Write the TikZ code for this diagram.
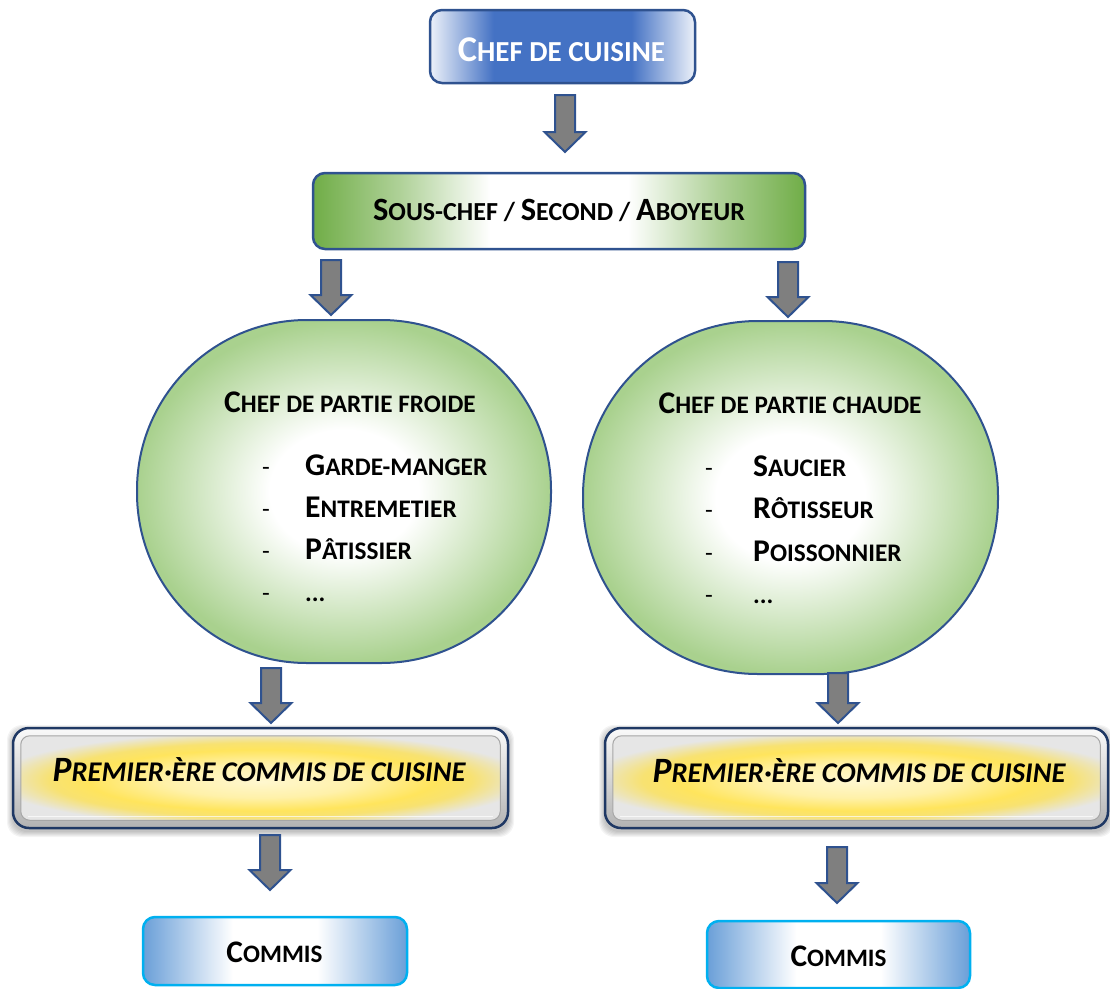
\documentclass[tikz,border=0pt]{standalone}
\usepackage{fontspec}
\setmainfont{Carlito}
\usepackage{graphicx}
\definecolor{chefblue}{HTML}{4472C4}
\definecolor{navy}{HTML}{2F528F}
\definecolor{sgreen}{HTML}{70AD47}
\definecolor{lgreen}{HTML}{A9D18E}
\definecolor{cblue}{HTML}{6A9FD8}
\definecolor{cyanb}{HTML}{00B0F0}
\definecolor{agray}{HTML}{7F7F7F}
\definecolor{dnavy}{HTML}{1F3864}
\definecolor{yel}{HTML}{FFE040}
\definecolor{lgray}{HTML}{E6E6E6}

\pgfdeclarehorizontalshading{bluebar}{100bp}{color(0bp)=(white); color(25bp)=(white!90!chefblue); color(37bp)=(chefblue); color(63bp)=(chefblue); color(75bp)=(white!90!chefblue); color(100bp)=(white)}
\pgfdeclarehorizontalshading{greenbar}{100bp}{color(0bp)=(sgreen); color(25bp)=(sgreen); color(34bp)=(sgreen!55!white); color(43bp)=(white); color(57bp)=(white); color(66bp)=(sgreen!55!white); color(75bp)=(sgreen); color(100bp)=(sgreen)}
\pgfdeclarehorizontalshading{commisbar}{100bp}{color(0bp)=(cblue); color(25bp)=(cblue); color(42bp)=(white); color(58bp)=(white); color(75bp)=(cblue); color(100bp)=(cblue)}
\pgfdeclareradialshading{greenglow}{\pgfpoint{0bp}{0bp}}{color(0bp)=(white); color(9bp)=(white); color(25bp)=(lgreen); color(50bp)=(lgreen)}
\pgfdeclareradialshading{yellowglow}{\pgfpoint{0bp}{-2bp}}{color(0bp)=(yel!25!white); color(10bp)=(yel!45!white); color(18bp)=(yel!85!white); color(22bp)=(yel!70!lgray); color(28bp)=(lgray); color(50bp)=(lgray)}

\newcommand\capl[1]{\scalebox{1.25}{#1}}
\newcommand\sz[1]{\bfseries\fontsize{#1}{#1}\selectfont}
\newcommand\szn[1]{\mdseries\fontsize{#1}{#1}\selectfont}

\tikzset{
  arrowsty/.style={fill=agray, draw=navy, line width=2, line join=miter},
  pics/barrow/.style={code={\draw[arrowsty] (-10,0) -- (10,0) -- (10,#1-20) -- (20.5,#1-20) -- (0,#1) -- (-20.5,#1-20) -- (-10,#1-20) -- cycle;}},
  chefbox/.style={draw=navy, line width=2.5, rounded corners=12, shading=bluebar, shade, inner sep=0},
  sousbox/.style={draw=navy, line width=2.5, rounded corners=12, shading=greenbar, shade, inner sep=0},
  ovalbox/.style={draw=navy, line width=2, shading=greenglow, shade, inner sep=0},
  commisbox/.style={draw=cyanb, line width=2.5, rounded corners=12, shading=commisbar, shade, inner sep=0},
  pframe/.style={draw=dnavy, line width=2.5, rounded corners=16, top color=white!96!gray, bottom color=gray!60, inner sep=0},
  txt/.style={inner sep=0, anchor=base},
  item/.style={inner sep=0, anchor=base west}
}

\newcommand\premierbox[5]{%
  \foreach \i in {1,...,6}{%
    \fill[black, opacity=.045, rounded corners=15] (#2-#4/2-\i, #3-#5/2-\i+3) rectangle (#2+#4/2+\i, #3+#5/2+\i+3);
  }
  \node[pframe, minimum width=#4, minimum height=#5] (#1) at (#2,#3) {};
  \shade[shading=yellowglow, rounded corners=9] ([shift={(9,9)}]#1.north west) rectangle ([shift={(-9,-9)}]#1.south east);
  \draw[white, opacity=.7, line width=1.5] ([shift={(16,-13)}]#1.south west) -- ([shift={(-16,-13)}]#1.south east);
  \draw[gray!70, line width=1, rounded corners=9] ([shift={(9,9)}]#1.north west) rectangle ([shift={(-9,-9)}]#1.south east);
}

\begin{document}
\begin{tikzpicture}[x=1pt,y=-1pt]
\useasboundingbox (0,0) rectangle (1110,988);

% Chef de cuisine
\node[chefbox, minimum width=265, minimum height=73] (chef) at (562.5,46.5) {};
\node[txt, text=white, font=\sz{29}] (tchef) at (561.5,61) {\capl{C}HEF DE CUISINE};
\pic at (565,95) {barrow=57};

% Sous-chef
\node[sousbox, minimum width=492, minimum height=76] (sous) at (559,211) {};
\node[txt, font=\sz{26}] (tsous) at (559,220) {\capl{S}OUS-CHEF / \capl{S}ECOND / \capl{A}BOYEUR};
\pic at (331,260) {barrow=55};
\pic at (788,262) {barrow=55};

% Chef de partie froide
\node[ovalbox, rounded corners=170, minimum width=414, minimum height=343] (froide) at (344,491.5) {};
\node[txt, font=\sz{25.2}] (tfroide) at (350,412) {\capl{C}HEF DE PARTIE FROIDE};
\node[item, font=\szn{25.3}] (fd1) at (262,475) {-};
\node[item, font=\szn{25.3}] (fd2) at (262,517) {-};
\node[item, font=\szn{25.3}] (fd3) at (262,559) {-};
\node[item, font=\szn{25.3}] (fd4) at (262,601) {-};
\node[item, font=\sz{25.3}] (fi1) at (305,475) {\capl{G}ARDE-MANGER};
\node[item, font=\sz{25.3}] (fi2) at (305,517) {\capl{E}NTREMETIER};
\node[item, font=\sz{25.3}] (fi3) at (305,559) {\capl{P}ÂTISSIER};
\node[item, font=\sz{25.3}] (fi4) at (305,601) {...};

% Chef de partie chaude
\node[ovalbox, rounded corners=175, minimum width=415, minimum height=353] (chaude) at (790.5,497.5) {};
\node[txt, font=\sz{25.2}] (tchaude) at (790,413) {\capl{C}HEF DE PARTIE CHAUDE};
\node[item, font=\szn{25.3}] (cd1) at (705,476) {-};
\node[item, font=\szn{25.3}] (cd2) at (705,518) {-};
\node[item, font=\szn{25.3}] (cd3) at (705,561) {-};
\node[item, font=\szn{25.3}] (cd4) at (705,603) {-};
\node[item, font=\sz{25.3}] (ci1) at (753,476) {\capl{S}AUCIER};
\node[item, font=\sz{25.3}] (ci2) at (753,518) {\capl{R}ÔTISSEUR};
\node[item, font=\sz{25.3}] (ci3) at (753,561) {\capl{P}OISSONNIER};
\node[item, font=\sz{25.3}] (ci4) at (753,603) {...};

\pic at (271,668) {barrow=55};
\pic at (838,673) {barrow=50};

% Premier commis
\premierbox{premL}{260.5}{778}{495}{100}
\premierbox{premR}{856.5}{778}{503}{100}
\node[txt, font=\sz{28.5}\itshape] (tpremL) at (259,781) {\capl{P}REMIER·ÈRE COMMIS DE CUISINE};
\node[txt, font=\sz{28.5}\itshape] (tpremR) at (859,782) {\capl{P}REMIER·ÈRE COMMIS DE CUISINE};

\pic at (270,835) {barrow=55};
\pic at (837,847) {barrow=56};

% Commis
\node[commisbox, minimum width=264, minimum height=68] (comL) at (275,951) {};
\node[commisbox, minimum width=263, minimum height=67] (comR) at (838.5,954.5) {};
\node[txt, font=\sz{25.1}] (tcomL) at (274.5,962) {\capl{C}OMMIS};
\node[txt, font=\sz{25.1}] (tcomR) at (838.5,966) {\capl{C}OMMIS};
\end{tikzpicture}
\end{document}
